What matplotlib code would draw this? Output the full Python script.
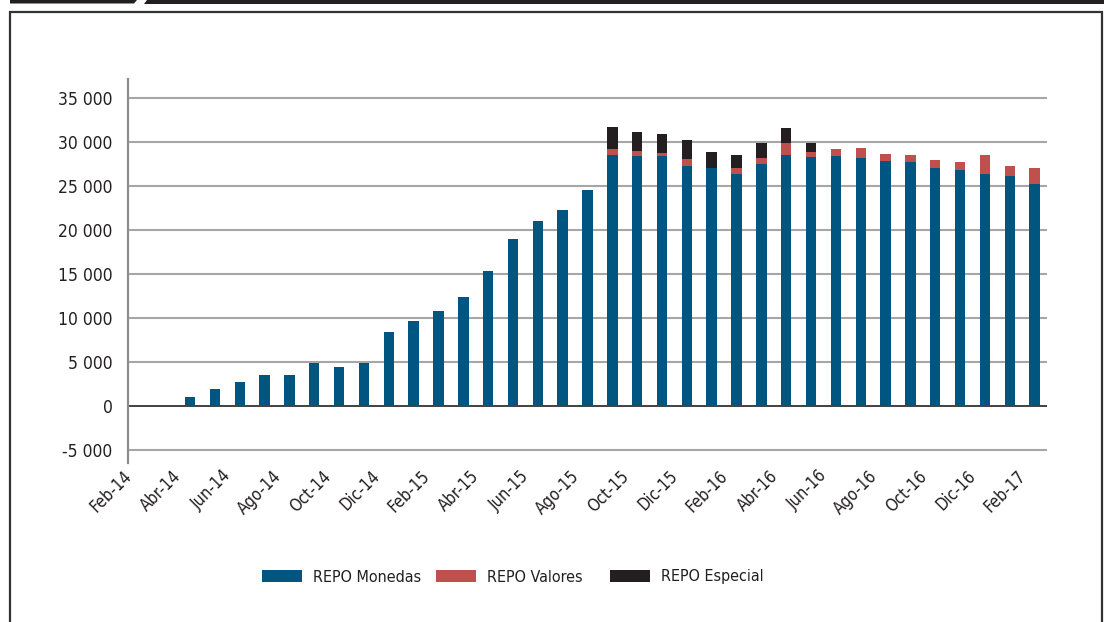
import matplotlib
matplotlib.use("Agg")
import matplotlib.pyplot as plt
from matplotlib.patches import Polygon, Rectangle
from matplotlib.ticker import FuncFormatter
from matplotlib.transforms import ScaledTranslation
import numpy as np

plt.rcParams["font.family"] = ["DejaVu Sans"]
plt.rcParams["font.stretch"] = "condensed"

MONTHS = [
    "Feb-14", "Mar-14", "Abr-14", "May-14", "Jun-14", "Jul-14", "Ago-14", "Sep-14",
    "Oct-14", "Nov-14", "Dic-14", "Ene-15", "Feb-15", "Mar-15", "Abr-15", "May-15",
    "Jun-15", "Jul-15", "Ago-15", "Sep-15", "Oct-15", "Nov-15", "Dic-15", "Ene-16",
    "Feb-16", "Mar-16", "Abr-16", "May-16", "Jun-16", "Jul-16", "Ago-16", "Sep-16",
    "Oct-16", "Nov-16", "Dic-16", "Ene-17", "Feb-17",
]
REPO_MONEDAS = [
    0, 0, 1100, 2000, 2800, 3500, 3500, 4900,
    4400, 4900, 8400, 9700, 10800, 12400, 15300, 19000,
    21000, 22300, 24600, 28500, 28400, 28400, 27300, 27050,
    26350, 27500, 28500, 28300, 28400, 28200, 27850, 27750,
    27050, 26800, 26350, 26150, 25250,
]
REPO_VALORES = [
    0, 0, 0, 0, 0, 0, 0, 0,
    0, 0, 0, 0, 0, 0, 0, 0,
    0, 0, 0, 700, 600, 350, 800, 0,
    700, 700, 1400, 550, 800, 1150, 800, 800,
    900, 900, 2150, 1150, 1800,
]
REPO_ESPECIAL = [
    0, 0, 0, 0, 0, 0, 0, 0,
    0, 0, 0, 0, 0, 0, 0, 0,
    0, 0, 0, 2500, 2150, 2150, 2150, 1800,
    1450, 1700, 1700, 1050, 0, 0, 0, 0,
    0, 0, 0, 0, 0,
]
Y_TICKS = [-5000, 0, 5000, 10000, 15000, 20000, 25000, 30000, 35000]

BLUE = "#005581"
RED = "#c0504d"
BLACK = "#231f20"
TEXT = "#231f20"

W, H = 1104, 622


def px_x(x):
    return x / W


def px_y(y):
    return 1 - y / H


def draw_frame(fig):
    # tab-like band at the very top
    left_band = [(10, 0), (137, 0), (134, 3.5), (10, 3.5)]
    right_band = [(147, 0), (1104, 0), (1104, 3.5), (144, 3.5)]
    for pts in (left_band, right_band):
        fig.patches.append(Polygon([(px_x(a), px_y(b)) for a, b in pts], closed=True,
                                   transform=fig.transFigure, color="#231f20", lw=0))
    fig.patches.append(Rectangle((px_x(10), px_y(640)), px_x(1092), 628 / H,
                                 transform=fig.transFigure, fill=False,
                                 edgecolor="#333333", lw=1.6))


def main():
    fig = plt.figure(figsize=(W / 100, H / 100), dpi=100)
    draw_frame(fig)
    ax = fig.add_axes([px_x(128), px_y(463), px_x(1047 - 128), 384 / H])

    x = np.arange(len(MONTHS))
    monedas = np.array(REPO_MONEDAS)
    valores = np.array(REPO_VALORES)
    especial = np.array(REPO_ESPECIAL)
    width = 0.42

    b1 = ax.bar(x, monedas, width, color=BLUE, label="REPO Monedas", zorder=3)
    b2 = ax.bar(x, valores, width, bottom=monedas, color=RED, label="REPO Valores", zorder=3)
    b3 = ax.bar(x, especial, width, bottom=monedas + valores, color=BLACK, label="REPO Especial", zorder=3)

    ax.set_xlim(-0.5, len(MONTHS) - 0.5)
    ax.set_ylim(-6450, 37150)
    ax.set_yticks(Y_TICKS)
    ax.yaxis.set_major_formatter(FuncFormatter(lambda v, _: f"{v:,.0f}".replace(",", " ")))
    for val in Y_TICKS:
        if val == 0:
            ax.axhline(0, color="#333333", lw=1.3, zorder=2)
        else:
            ax.axhline(val, color="#a6a6a6", lw=1.5, zorder=1)

    ax.tick_params(axis="both", length=0)
    ax.tick_params(axis="y", labelsize=12.5, labelcolor=TEXT, pad=11)
    ax.tick_params(axis="x", pad=0)

    ax.set_xticks(x[::2])
    ax.set_xticklabels(MONTHS[::2], rotation=45, ha="right", va="top", fontsize=12, color=TEXT)
    # nudge the slanted labels a little left and down (after tick_params, which resets transforms)
    shift = ScaledTranslation(-5 / 100, -4 / 100, fig.dpi_scale_trans)
    for lab in ax.get_xticklabels():
        lab.set_transform(lab.get_transform() + shift)

    for side in ("top", "right", "bottom"):
        ax.spines[side].set_visible(False)
    ax.spines["left"].set_color("#8c8c8c")
    ax.spines["left"].set_linewidth(1.6)
    ax.set_facecolor("none")

    # one legend per entry so that the entries sit at even steps, as in the source
    for handle, start in zip((b1, b2, b3), (262, 436, 610)):
        fig.legend(handles=[handle], loc="center left", bbox_to_anchor=(px_x(start), px_y(577)),
                   frameon=False, fontsize=11.5, borderpad=0, borderaxespad=0,
                   handlelength=2.5, handleheight=0.7, handletextpad=0.7, labelcolor=TEXT)

    fig.savefig("out.png", dpi=100)
    plt.close(fig)


if __name__ == "__main__":
    main()
